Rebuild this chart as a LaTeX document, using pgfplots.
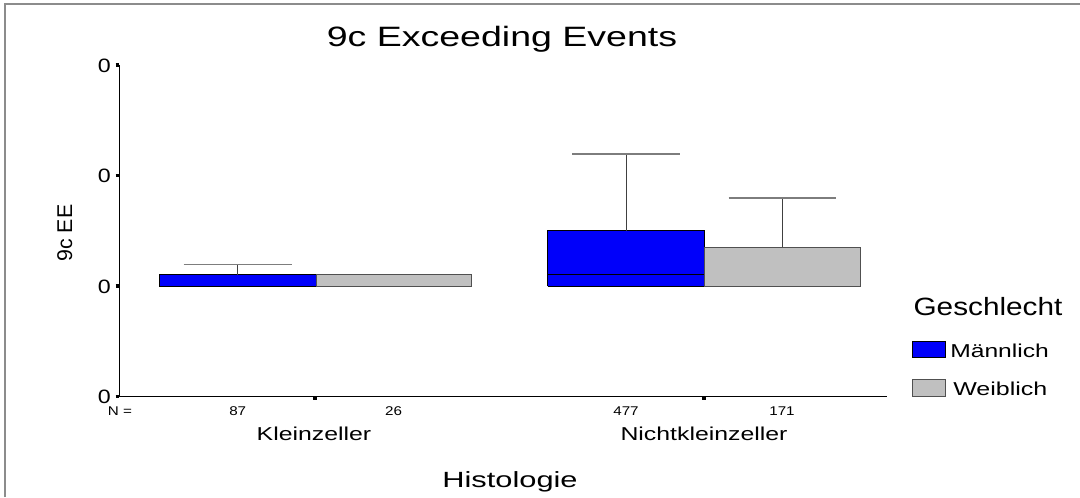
\documentclass[border=0pt]{standalone}
\usepackage{fontspec}
\setmainfont{Liberation Sans}
\usepackage{graphicx}
\usepackage{pgfplots}
\pgfplotsset{compat=1.18}
\definecolor{mblue}{RGB}{0,0,250}
\definecolor{wgray}{RGB}{192,192,192}
\definecolor{wedge}{RGB}{80,80,80}
\definecolor{whisk}{RGB}{125,125,125}
\definecolor{framegray}{RGB}{140,140,140}
\newcommand{\sx}[2]{\scalebox{#1}[1]{#2}}
\newcommand{\fsz}[1]{\fontsize{#1}{#1}\selectfont}

\begin{document}
\begin{tikzpicture}
\path[use as bounding box] (0,0) rectangle (810pt,-372.75pt);
\begin{axis}[
  at={(89.25pt,-297.375pt)}, anchor=south west,
  scale only axis, width=576pt, height=248.625pt,
  xmin=1.19, xmax=8.87, ymin=-1, ymax=2,
  axis x line*=bottom, axis y line*=left,
  axis line style={black, line width=0.75pt},
  xtick={3.15,7.04}, xticklabels={},
  ytick={-1,0,1,2}, yticklabels={},
  tick align=outside,
  major tick length=2.5pt,
  xtick style={black, line width=3.5pt},
  ytick style={black, line width=2.5pt},
  clip=false,
  boxstyle/.style={line width=0.75pt},
  whiskline/.style={draw=gray!50!black, line width=0.75pt},
  whiskcap/.style={draw=whisk, line width=1pt},
]
% ---- boxes (quartile 1 to quartile 3) ----
% Kleinzeller, maennlich
\addplot[boxstyle, fill=mblue, draw=black] coordinates
  {(1.594,0) (3.16,0) (3.16,0.1) (1.594,0.1) (1.594,0)};
% Kleinzeller, weiblich
\addplot[boxstyle, fill=wgray, draw=wedge] coordinates
  {(3.16,0) (4.71,0) (4.71,0.1) (3.16,0.1) (3.16,0)};
% Nichtkleinzeller, maennlich
\addplot[boxstyle, fill=mblue, draw=black] coordinates
  {(5.476,0) (7.04,0) (7.04,0.498) (5.476,0.498) (5.476,0)};
% Nichtkleinzeller, weiblich
\addplot[boxstyle, fill=wgray, draw=wedge] coordinates
  {(7.04,0) (8.60,0) (8.60,0.353) (7.04,0.353) (7.04,0)};
% ---- medians ----
\addplot[draw=black, line width=0.75pt] coordinates {(5.476,0.1) (7.04,0.1)};
% ---- whiskers ----
\addplot[whiskline] coordinates {(2.377,0.1) (2.377,0.193)};
\addplot[whiskcap] coordinates {(1.837,0.193) (2.917,0.193)};
\addplot[whiskline] coordinates {(6.26,0.498) (6.26,1.195)};
\addplot[whiskcap] coordinates {(5.7225,1.195) (6.7975,1.195)};
\addplot[whiskline] coordinates {(7.82,0.353) (7.82,0.796)};
\addplot[whiskcap] coordinates {(7.285,0.796) (8.355,0.796)};
\end{axis}

\begin{scope}[x=0.75pt, y=-0.75pt]
  \draw[framegray, line width=1.5pt] (5,497) -- (5,4) -- (1080,4);
  % y tick labels (all printed as 0 in the original)
  \foreach \yy in {65,175.5,286,396.5}
    \node[anchor=base east, inner sep=0pt] at (111,\yy+7) {\fsz{14.5}\sx{1.2}{0}};
  \node[anchor=base, inner sep=0pt] at (502,46.7) {\fsz{21}\sx{1.34}{9c Exceeding Events}};
  \node[anchor=base, inner sep=0pt] at (510,487) {\fsz{16.5}\sx{1.4}{Histologie}};
  \node[anchor=base, inner sep=0pt, rotate=90] at (72,233) {\fsz{16}9c EE};
  \node[anchor=base, inner sep=0pt] at (314,440) {\fsz{14}\sx{1.33}{Kleinzeller}};
  \node[anchor=base, inner sep=0pt] at (704,440) {\fsz{14}\sx{1.33}{Nichtkleinzeller}};
  \node[anchor=base, inner sep=0pt] at (120,415.7) {\fsz{9.5}\sx{1.2}{N =}};
  \node[anchor=base, inner sep=0pt] at (237.7,415.7) {\fsz{9.5}\sx{1.2}{87}};
  \node[anchor=base, inner sep=0pt] at (393.5,415.7) {\fsz{9.5}\sx{1.2}{26}};
  \node[anchor=base, inner sep=0pt] at (626,415.7) {\fsz{9.5}\sx{1.2}{477}};
  \node[anchor=base, inner sep=0pt] at (782,415.7) {\fsz{9.5}\sx{1.2}{171}};
  % legend
  \node[anchor=base, inner sep=0pt] at (988,315) {\fsz{18.75}\sx{1.19}{Geschlecht}};
  \filldraw[fill=mblue, draw=black, line width=0.75pt] (912,341) rectangle (945,357);
  \filldraw[fill=wgray, draw=wedge, line width=0.75pt] (912,379) rectangle (945,396);
  \node[anchor=base west, inner sep=0pt] at (950,357) {\fsz{14}\sx{1.32}{Männlich}};
  \node[anchor=base west, inner sep=0pt] at (953,395) {\fsz{14}\sx{1.34}{Weiblich}};
\end{scope}
\end{tikzpicture}
\end{document}
